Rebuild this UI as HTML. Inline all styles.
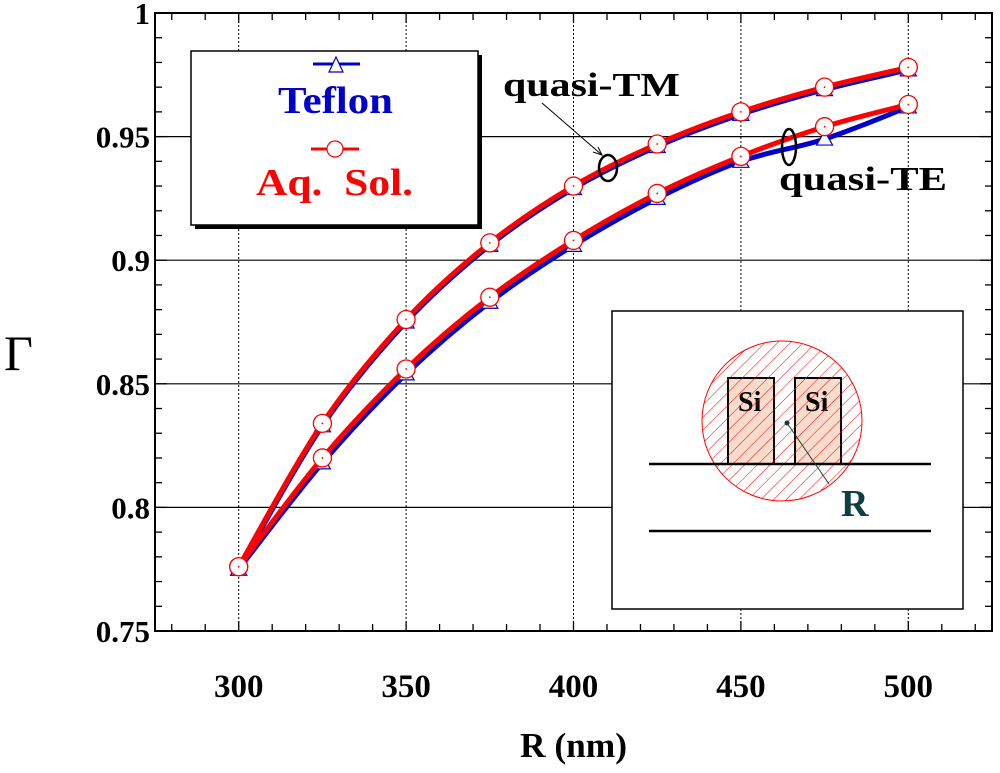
<!DOCTYPE html>
<html><head><meta charset="utf-8"><style>
body{margin:0;background:#fff;width:1000px;height:768px;overflow:hidden}
svg text{font-family:"Liberation Serif",serif;font-weight:bold}
</style></head><body>
<svg id="chart" width="1000" height="768" xmlns="http://www.w3.org/2000/svg">
<defs>
<pattern id="hatch" width="9" height="9" patternUnits="userSpaceOnUse" patternTransform="rotate(45)">
<line x1="0" y1="0" x2="0" y2="9" stroke="#f00" stroke-width="1"/>
</pattern>
</defs>
<g id="grid"></g>
<g id="axes"></g>
<g id="series"></g>
<g>
<rect x="195" y="55" width="287" height="174" fill="#000"/>
<rect x="191" y="51" width="287" height="174" fill="#fff" stroke="#000" stroke-width="1.5"/>
<line x1="313" y1="64" x2="360" y2="64" stroke="#00c" stroke-width="3"/>
<polygon points="336,57 329,72 343,72" fill="#fff" stroke="#00c" stroke-width="1.2"/>
<text x="278" y="113" font-size="38" fill="#00c" textLength="115" lengthAdjust="spacingAndGlyphs">Teflon</text>
<line x1="311" y1="149" x2="359" y2="149" stroke="#f00" stroke-width="3"/>
<circle cx="335" cy="149" r="8" fill="#fff" stroke="#f00" stroke-width="1.2"/>
<text x="256" y="195" font-size="38" fill="#f00" textLength="157" lengthAdjust="spacingAndGlyphs" xml:space="preserve">Aq.  Sol.</text>
</g>
<g>
<text x="503" y="96" font-size="34" fill="#000" textLength="177" lengthAdjust="spacingAndGlyphs">quasi-TM</text>
<line x1="542" y1="103" x2="602" y2="155" stroke="#000" stroke-width="1"/>
<polyline points="593,152 602,155 598,147" fill="none" stroke="#000" stroke-width="1"/>
<ellipse cx="608" cy="168" rx="9" ry="13" fill="none" stroke="#000" stroke-width="2.5"/>
<ellipse cx="789" cy="147" rx="7" ry="18" fill="none" stroke="#000" stroke-width="2.5"/>
<text x="779" y="190" font-size="34" fill="#000" textLength="168" lengthAdjust="spacingAndGlyphs">quasi-TE</text>
</g>
<g>
<rect x="612" y="311" width="351" height="298" fill="#fff" stroke="#000" stroke-width="1.5"/>
<rect x="728" y="378" width="46" height="86" fill="#fadccc" stroke="#000" stroke-width="2"/>
<rect x="795" y="378" width="46" height="86" fill="#fadccc" stroke="#000" stroke-width="2"/>
<text x="738" y="411" font-size="28" fill="#000">Si</text>
<text x="805" y="411" font-size="28" fill="#000">Si</text>
<circle cx="782" cy="421" r="80" fill="url(#hatch)" stroke="#f00" stroke-width="1"/>
<line x1="649" y1="464" x2="931" y2="464" stroke="#000" stroke-width="2.5"/>
<line x1="649" y1="531" x2="931" y2="531" stroke="#000" stroke-width="2.5"/>
<circle cx="787" cy="423" r="2.5" fill="#0a4040"/>
<line x1="787" y1="423" x2="829" y2="484" stroke="#0a4040" stroke-width="1"/>
<text x="841" y="516" font-size="38" fill="#0a4040">R</text>
</g>
<text x="520" y="757" font-size="35" fill="#000" textLength="107" lengthAdjust="spacingAndGlyphs">R (nm)</text>
<text x="4" y="370" font-size="50" fill="#000" style="font-weight:normal">Γ</text>
</svg>
<script>
const xCats=[300,325,350,375,400,425,450,475,500];
const tmAq=[0.776,0.834,0.876,0.907,0.930,0.947,0.960,0.970,0.978];
const tmTef=[0.775,0.833,0.875,0.906,0.929,0.946,0.959,0.969,0.977];
const teAq=[0.776,0.820,0.856,0.885,0.908,0.927,0.942,0.954,0.963];
const teTef=[0.775,0.818,0.854,0.883,0.906,0.925,0.940,0.949,0.962];
const xTicks=[300,350,400,450,500];
const yTicks=[0.75,0.8,0.85,0.9,0.95,1];
const yTickLabels=["0.75","0.8","0.85","0.9","0.95","1"];
const L=155,R=992,T=13,B=631,X0=275,X1=525,Y0=0.75,Y1=1;
const sx=v=>L+(v-X0)/(X1-X0)*(R-L);
const sy=v=>B-(v-Y0)/(Y1-Y0)*(B-T);
const NS="http://www.w3.org/2000/svg";
function mk(tag,parent,attrs){const e=document.createElementNS(NS,tag);for(const k in attrs)e.setAttribute(k,attrs[k]);parent.appendChild(e);return e;}
const grid=document.getElementById('grid'),axes=document.getElementById('axes'),ser=document.getElementById('series');
xTicks.forEach(v=>{const e=mk('line',grid,{x1:sx(v),x2:sx(v),y1:T,y2:B,stroke:'#000','stroke-width':1,'stroke-dasharray':'2,2'});

});
yTicks.slice(1,-1).forEach(v=>{const e=mk('line',grid,{x1:L,x2:R,y1:sy(v),y2:sy(v),stroke:'#000','stroke-width':1.2});

});
const fr=mk('rect',axes,{x:L,y:T,width:R-L,height:B-T,fill:'none',stroke:'#000','stroke-width':2});


for(let v=280;v<=520;v+=10){const big=v%50===0,l=big?10:7;
mk('line',axes,{x1:sx(v),x2:sx(v),y1:B,y2:B-l,stroke:'#000','stroke-width':1.3});
mk('line',axes,{x1:sx(v),x2:sx(v),y1:T,y2:T+l,stroke:'#000','stroke-width':1.3});}
for(let i=0;i<=25;i++){const v=0.75+i*0.01,big=i%5===0,l=big?12:7;
mk('line',axes,{x1:L,x2:L+l,y1:sy(v),y2:sy(v),stroke:'#000','stroke-width':1.3});
mk('line',axes,{x1:R,x2:R-l,y1:sy(v),y2:sy(v),stroke:'#000','stroke-width':1.3});}
xTicks.forEach(v=>{const t=mk('text',axes,{x:sx(v),y:697,'font-size':33,'text-anchor':'middle'});t.textContent=v;

});
yTicks.forEach((v,i)=>{const t=mk('text',axes,{x:150,y:sy(v)+11,'font-size':31,'text-anchor':'end'});t.textContent=yTickLabels[i];

});
function smoothPath(pts){let d='M'+pts[0][0]+','+pts[0][1];
for(let i=0;i<pts.length-1;i++){const p0=pts[Math.max(0,i-1)],p1=pts[i],p2=pts[i+1],p3=pts[Math.min(pts.length-1,i+2)];
const c1=[p1[0]+(p2[0]-p0[0])/6,p1[1]+(p2[1]-p0[1])/6],c2=[p2[0]-(p3[0]-p1[0])/6,p2[1]-(p3[1]-p1[1])/6];
d+=` C${c1[0]},${c1[1]} ${c2[0]},${c2[1]} ${p2[0]},${p2[1]}`;}return d;}
function line(vals,color,name,marker){const pts=xCats.map((x,i)=>[sx(x),sy(vals[i])]);
const p=mk('path',ser,{d:smoothPath(pts),fill:'none',stroke:color,'stroke-width':5,'stroke-linejoin':'round'});


xCats.forEach((x,i)=>{let m;
if(marker==='tri'){const cx=sx(x),cy=sy(vals[i]);m=mk('polygon',ser,{points:`${cx},${cy-8} ${cx-8},${cy+6} ${cx+8},${cy+6}`,fill:'#fff',stroke:color,'stroke-width':1.2});}
else{m=mk('circle',ser,{cx:sx(x),cy:sy(vals[i]),r:9,fill:'#fff',stroke:color,'stroke-width':1.3});mk('circle',ser,{cx:sx(x),cy:sy(vals[i]),r:0.9,fill:color});}

});}
line(teTef,'#00c','teflon-te','tri');
line(tmTef,'#00c','teflon-tm','tri');
line(teAq,'#f00','aq-te','circ');
line(tmAq,'#f00','aq-tm','circ');
</script>
</body></html>
